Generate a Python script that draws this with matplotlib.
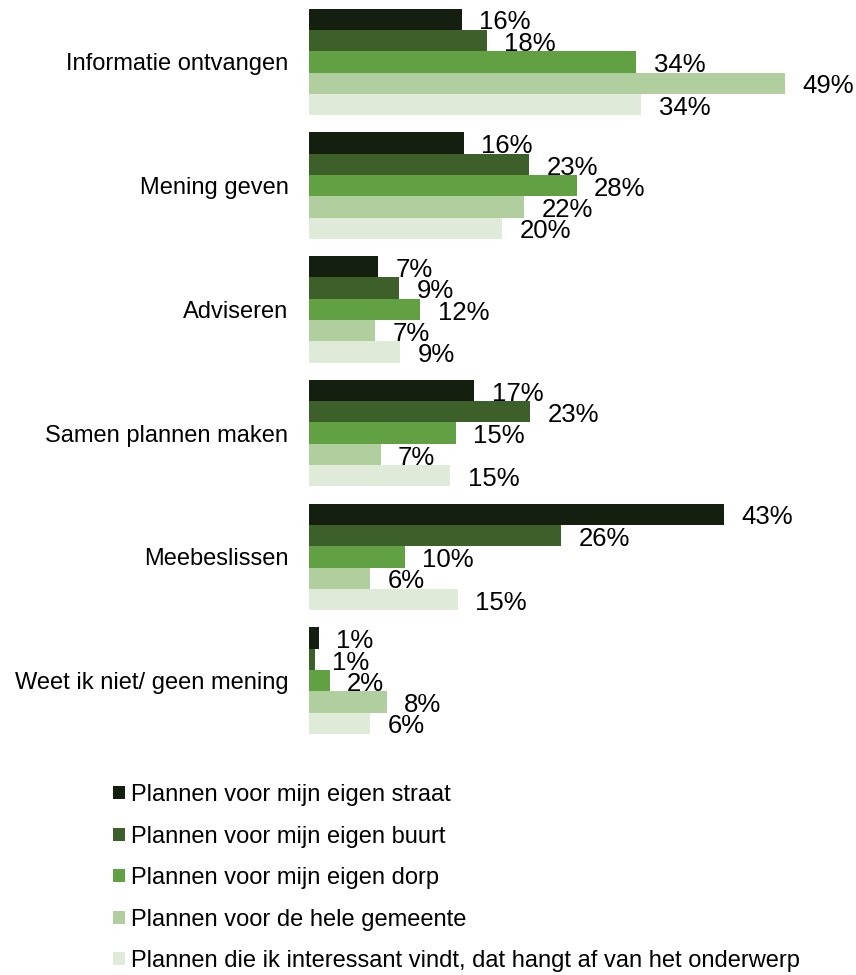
import numpy as np
import matplotlib
matplotlib.use('Agg')
import matplotlib.pyplot as plt

plt.rcParams['font.family'] = ['Liberation Sans', 'DejaVu Sans']

categories = ["Informatie ontvangen", "Mening geven", "Adviseren",
              "Samen plannen maken", "Meebeslissen", "Weet ik niet/ geen mening"]
series_names = ["Plannen voor mijn eigen straat",
                "Plannen voor mijn eigen buurt",
                "Plannen voor mijn eigen dorp",
                "Plannen voor de hele gemeente",
                "Plannen die ik interessant vindt, dat hangt af van het onderwerp"]

# percentages per series, in category order
straat = [15.8, 16.0, 7.1, 17.1, 43.0, 1.0]
buurt = [18.4, 22.8, 9.3, 22.9, 26.1, 0.6]
dorp = [33.9, 27.7, 11.5, 15.2, 9.9, 2.1]
gemeente = [49.3, 22.3, 6.8, 7.4, 6.3, 8.0]
onderwerp = [34.4, 20.0, 9.4, 14.6, 15.4, 6.3]

colors = ["#141f10", "#3d5f2a", "#62a044", "#b1cf9e", "#dfead9"]

fig = plt.figure(figsize=(8.56, 9.75), dpi=100)
ax = fig.add_axes([309.3 / 856, 1 - 742.5 / 975, 482.5 / 856, 742.5 / 975])

y = np.arange(len(categories))
h = 0.172
for j, vals in enumerate([straat, buurt, dorp, gemeente, onderwerp]):
    pos = y + (j - 2) * h
    ax.barh(pos, vals, height=h, color=colors[j], label=series_names[j])
    for p, v in zip(pos, vals):
        ax.annotate(f"{v:.0f}%", (v, p), xytext=(12.5, -0.5), textcoords="offset points",
                    va="center_baseline", ha="left", fontsize=18.5, color="#000000",
                    annotation_clip=False)

ax.set_xlim(0, 50)
ax.set_ylim(len(categories) - 0.5, -0.5)
ax.set_yticks(y)
ax.set_yticklabels(categories, fontsize=17)
ax.tick_params(axis='y', length=0, pad=15)
ax.set_xticks([])
for s in ax.spines.values():
    s.set_visible(False)

handles, labels = ax.get_legend_handles_labels()
fig.legend(handles, labels, loc="upper left", bbox_to_anchor=(113.3 / 856, 1 - 784 / 975),
           frameon=False, fontsize=17, ncol=1, borderpad=0, borderaxespad=0,
           handlelength=0.49, handleheight=0.47, handletextpad=0.25, labelspacing=0.83)

plt.savefig("out.png", dpi=100)
